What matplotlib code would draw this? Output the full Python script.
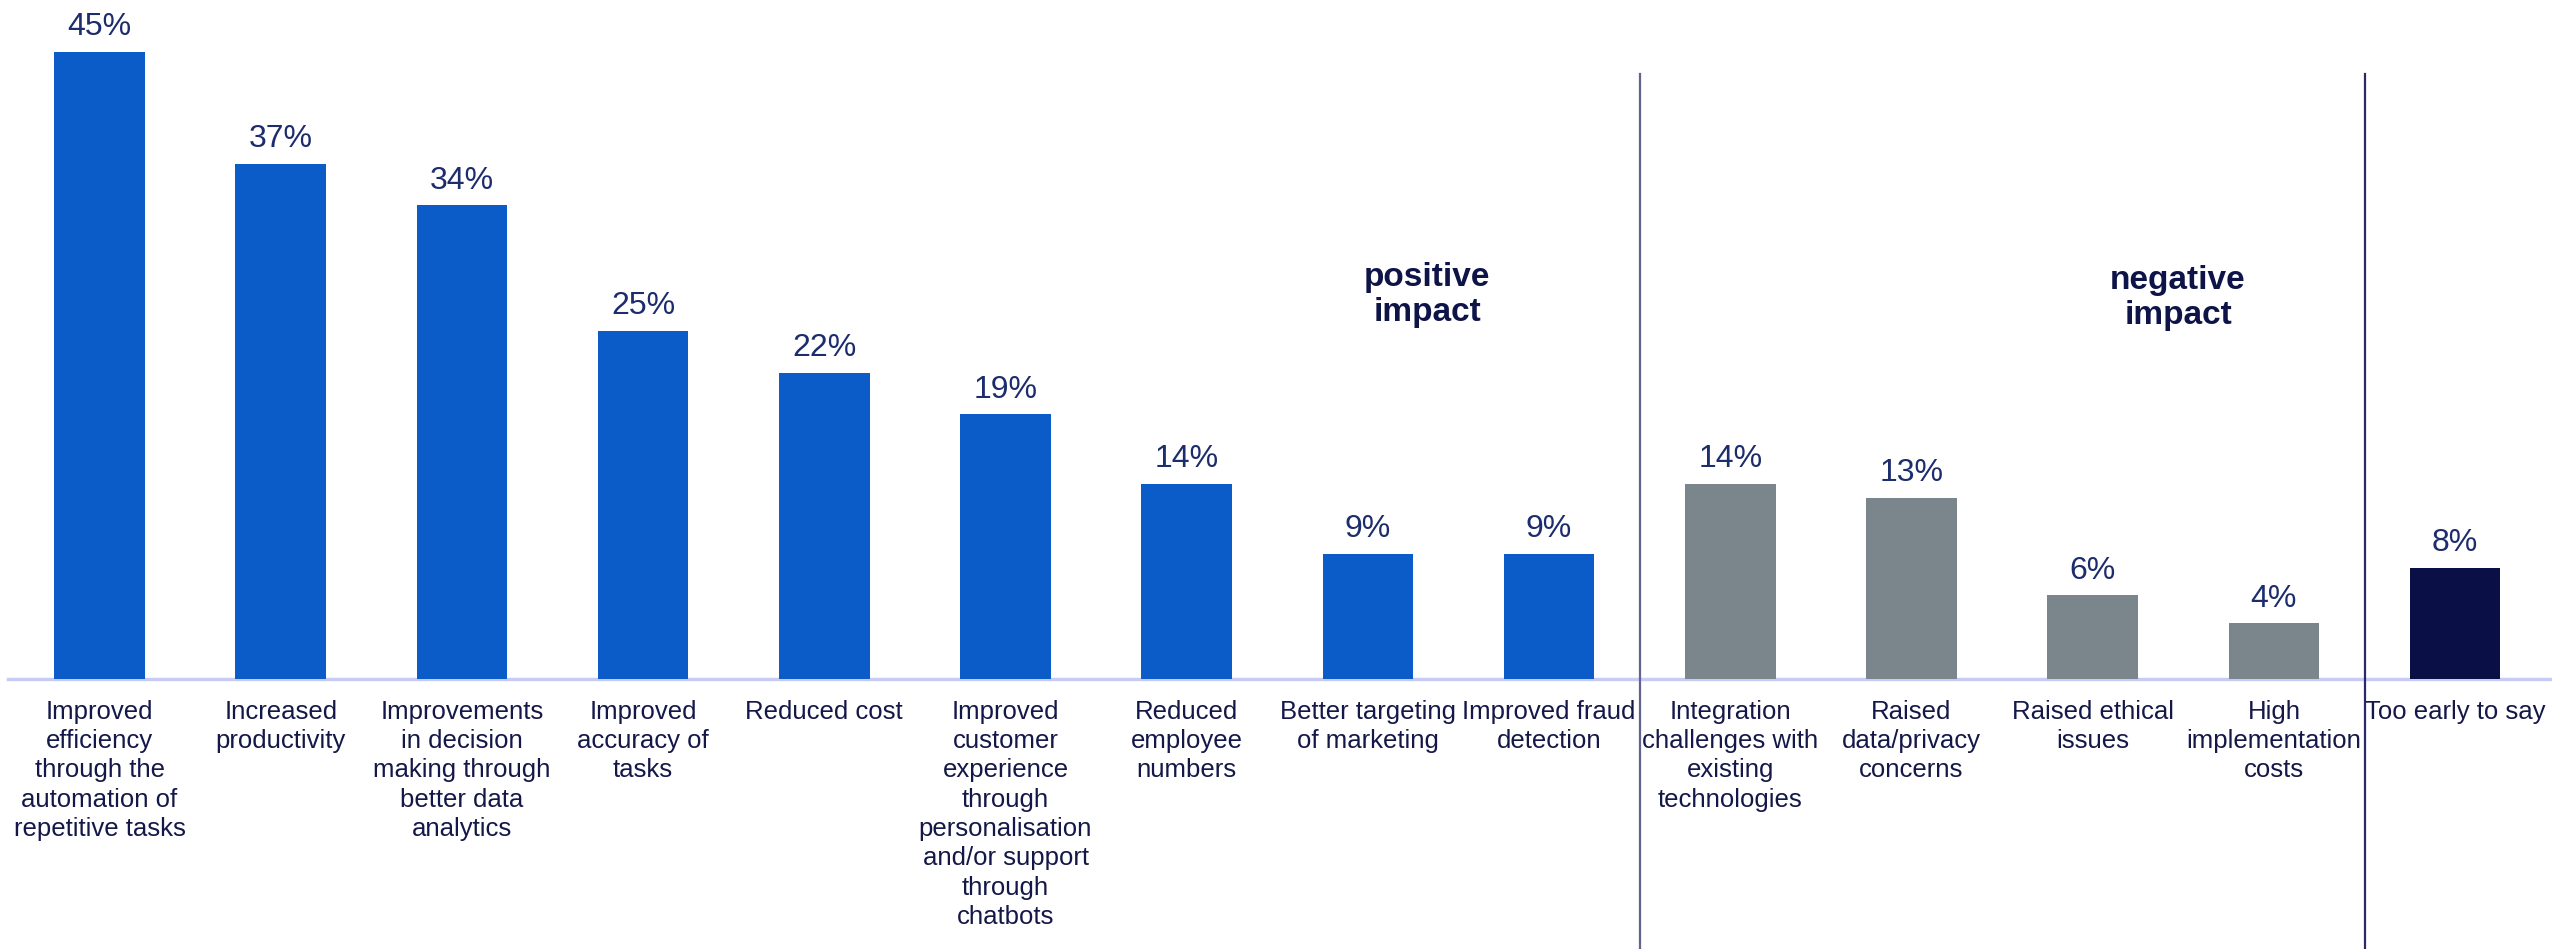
import matplotlib.pyplot as plt

plt.rcParams['font.family'] = ['Liberation Sans', 'DejaVu Sans']

# share of respondents naming each AI impact
categories = [
    'Improved\nefficiency\nthrough the\nautomation of\nrepetitive tasks',
    'Increased\nproductivity',
    'Improvements\nin decision\nmaking through\nbetter data\nanalytics',
    'Improved\naccuracy of\ntasks',
    'Reduced cost',
    'Improved\ncustomer\nexperience\nthrough\npersonalisation\nand/or support\nthrough\nchatbots',
    'Reduced\nemployee\nnumbers',
    'Better targeting\nof marketing',
    'Improved fraud\ndetection',
    'Integration\nchallenges with\nexisting\ntechnologies',
    'Raised\ndata/privacy\nconcerns',
    'Raised ethical\nissues',
    'High\nimplementation\ncosts',
    'Too early to say',
]
values = [45, 37, 34, 25, 22, 19, 14, 9, 9, 14, 13, 6, 4, 8]
groups = ['pos'] * 9 + ['neg'] * 4 + ['early']

group_colors = {'pos': '#0b5cc8', 'neg': '#7b868c', 'early': '#0a0f45'}
label_col = '#141848'
value_col = '#1c2c6c'

W, H = 2552, 949
fig = plt.figure(figsize=(W / 100, H / 100), dpi=100)
ax = fig.add_axes([0, 0, 1, 1])

step = 181.2          # px between bar centres
x0 = 99.5             # px, first bar centre
base = 679            # px from top, baseline
ppu = 13.93           # px per percentage point

ax.set_xlim(-x0 / step, (W - x0) / step)
ax.set_ylim(-(H - base) / ppu, base / ppu)
ax.axis('off')

xs = list(range(len(values)))
ax.bar(xs, values, width=0.5, color=[group_colors[g] for g in groups], zorder=2)

# baseline
ax.axhline(0, xmin=8 / W, xmax=1, color='#c8ccf5', lw=2.5, zorder=1)

# section dividers
top = (base - 74) / ppu
for xd, c in [(8.5, '#62628e'), (12.5, '#2a2a6a')]:
    ax.plot([xd, xd], [top, -(H - base) / ppu], color=c, lw=1.6, zorder=1)

for x, v, lab in zip(xs, values, categories):
    ax.annotate(f'{v}%', (x, v), xytext=(0, 12), textcoords='offset points',
                ha='center', va='baseline', fontsize=23, color=value_col)
    ax.annotate(lab, (x, 0), xytext=(0, -15), textcoords='offset points',
                ha='center', va='top', fontsize=18.5, color=label_col,
                linespacing=1.28)

ax.text((1427 - x0) / step, (base - 295) / ppu, 'positive\nimpact',
        ha='center', va='center', fontsize=24, fontweight='bold',
        color='#0e1448', linespacing=1.2)
ax.text((2178 - x0) / step, (base - 298) / ppu, 'negative\nimpact',
        ha='center', va='center', fontsize=24, fontweight='bold',
        color='#0e1448', linespacing=1.2)

fig.savefig('out.png', dpi=100)
